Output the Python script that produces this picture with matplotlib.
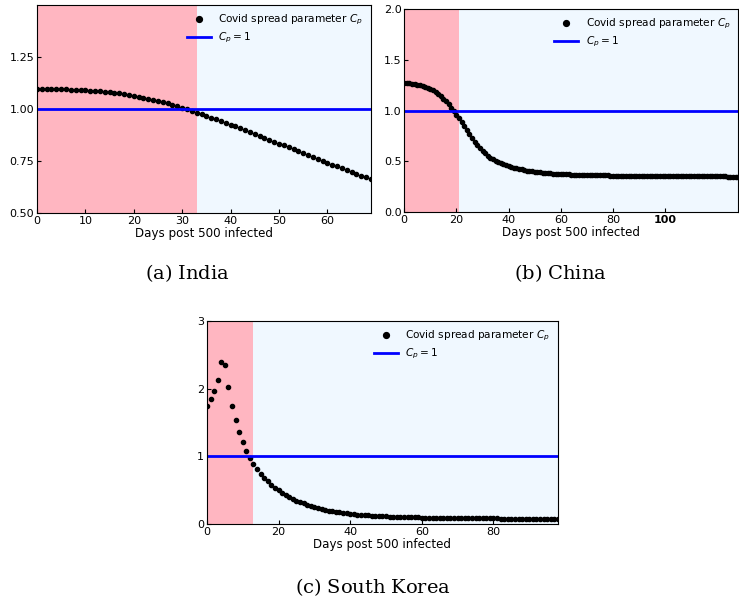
import numpy as np
import matplotlib
matplotlib.use("Agg")
import matplotlib.pyplot as plt

plt.rcParams['mathtext.fontset'] = 'dejavusans'

# Covid spread parameter C_p, one value per day
india_cp = [1.097, 1.097, 1.096, 1.096, 1.095, 1.095, 1.094, 1.093, 1.092, 1.091,
            1.090, 1.088, 1.087, 1.085, 1.083, 1.081, 1.078, 1.075, 1.072, 1.068,
            1.064, 1.060, 1.055, 1.050, 1.045, 1.039, 1.033, 1.027, 1.020, 1.013,
            1.006, 0.998, 0.991, 0.983, 0.975, 0.967, 0.959, 0.951, 0.942, 0.934,
            0.925, 0.916, 0.907, 0.898, 0.889, 0.880, 0.871, 0.862, 0.853, 0.843,
            0.834, 0.825, 0.815, 0.806, 0.797, 0.788, 0.778, 0.769, 0.760, 0.751,
            0.742, 0.733, 0.724, 0.715, 0.706, 0.697, 0.689, 0.680, 0.672, 0.664]

china_cp = [1.270, 1.270, 1.268, 1.265, 1.260, 1.255, 1.250, 1.242, 1.235, 1.225,
            1.212, 1.198, 1.182, 1.162, 1.140, 1.115, 1.090, 1.060, 1.030, 0.995,
            0.960, 0.925, 0.885, 0.845, 0.805, 0.765, 0.728, 0.692, 0.660, 0.630,
            0.602, 0.578, 0.557, 0.538, 0.521, 0.506, 0.493, 0.481, 0.470, 0.461,
            0.452, 0.445, 0.438, 0.432, 0.426, 0.420, 0.415, 0.410, 0.406, 0.402,
            0.398, 0.395, 0.392, 0.389, 0.386, 0.384, 0.382, 0.380, 0.378, 0.376,
            0.375, 0.373, 0.372, 0.371, 0.370, 0.369, 0.368, 0.367, 0.366, 0.365,
            0.364, 0.364, 0.363, 0.363, 0.362, 0.362, 0.361, 0.361, 0.361, 0.360,
            0.360, 0.360, 0.359, 0.359, 0.359, 0.358, 0.358, 0.358, 0.358, 0.357,
            0.357, 0.357, 0.357, 0.356, 0.356, 0.356, 0.356, 0.356, 0.355, 0.355,
            0.355, 0.355, 0.355, 0.354, 0.354, 0.354, 0.354, 0.354, 0.354, 0.353,
            0.353, 0.353, 0.353, 0.353, 0.353, 0.353, 0.352, 0.352, 0.352, 0.352,
            0.352, 0.352, 0.352, 0.352, 0.351, 0.351, 0.351, 0.351, 0.351]

korea_cp = [1.75, 1.84, 1.96, 2.13, 2.39, 2.35, 2.02, 1.75, 1.54, 1.36,
            1.21, 1.08, 0.98, 0.89, 0.81, 0.74, 0.68, 0.63, 0.58, 0.54,
            0.500, 0.465, 0.432, 0.402, 0.374, 0.348, 0.325, 0.304, 0.284, 0.266,
            0.250, 0.235, 0.222, 0.210, 0.199, 0.189, 0.180, 0.172, 0.165, 0.158,
            0.152, 0.146, 0.141, 0.136, 0.132, 0.128, 0.124, 0.121, 0.118, 0.115,
            0.113, 0.111, 0.109, 0.107, 0.105, 0.103, 0.102, 0.100, 0.099, 0.098,
            0.097, 0.096, 0.095, 0.094, 0.093, 0.092, 0.091, 0.091, 0.090, 0.089,
            0.089, 0.088, 0.087, 0.087, 0.086, 0.086, 0.085, 0.085, 0.084, 0.084,
            0.083, 0.083, 0.082, 0.082, 0.081, 0.081, 0.081, 0.080, 0.080, 0.080,
            0.079, 0.079, 0.079, 0.078, 0.078, 0.078, 0.077, 0.077, 0.077]

# day when C_p crosses 1 (end of the shaded growth phase)
india_cross = 33
china_cross = 21
korea_cross = 13

india_yticks = [0.5, 0.75, 1.0, 1.25]
china_yticks = [0.0, 0.5, 1.0, 1.5, 2.0]
korea_yticks = [0, 1, 2, 3]


def panel(ax, cp, cross, ylim, yticks, ytickfmt, xticks):
    days = np.arange(len(cp))
    xmax = days[-1]
    ax.axvspan(0, cross, color='lightpink', lw=0, zorder=0)
    ax.axvspan(cross, xmax, color='aliceblue', lw=0, zorder=0)
    ax.plot(days, cp, 'o', color='black', markersize=3.0,
            label='Covid spread parameter $C_p$')
    ax.axhline(1, color='blue', lw=2, label='$C_p = 1$')
    ax.set_xlim(0, xmax)
    ax.set_ylim(*ylim)
    ax.set_yticks(yticks)
    ax.set_yticklabels([ytickfmt.format(t) for t in yticks])
    ax.set_xticks(xticks)
    ax.tick_params(direction='in', labelsize=8, pad=2, length=3)
    ax.set_xlabel('Days post 500 infected', fontsize=8.6, labelpad=1)
    ax.legend(loc='upper right', frameon=False, fontsize=7.6, markerscale=1.4,
              handlelength=2.3, handletextpad=0.7, labelspacing=0.35,
              borderaxespad=0.35)


fig = plt.figure(figsize=(7.39, 6.01), dpi=100)

ax1 = fig.add_axes([0.050, 0.6456, 0.452, 0.346])
panel(ax1, india_cp, india_cross, (0.5, 1.5), india_yticks, '{:.2f}', range(0, 61, 10))

ax2 = fig.add_axes([0.547, 0.647, 0.452, 0.338])
panel(ax2, china_cp, china_cross, (0.0, 2.0), china_yticks, '{:.1f}', range(0, 101, 20))
for lab in ax2.get_xticklabels():
    if lab.get_text() == '100':
        lab.set_fontweight('bold')

ax3 = fig.add_axes([0.280, 0.128, 0.475, 0.338])
panel(ax3, korea_cp, korea_cross, (0, 3), korea_yticks, '{:d}', range(0, 81, 20))

cap = dict(fontsize=14, ha='center', va='center', family='DejaVu Serif')
fig.text(0.254, 0.546, r'$\mathregular{(a)\ India}$', math_fontfamily='cm', **cap)
fig.text(0.758, 0.546, r'$\mathregular{(b)\ China}$', math_fontfamily='cm', **cap)
fig.text(0.504, 0.023, r'$\mathregular{(c)\ South\ Korea}$', math_fontfamily='cm', **cap)

fig.savefig('out.png', dpi=100)
